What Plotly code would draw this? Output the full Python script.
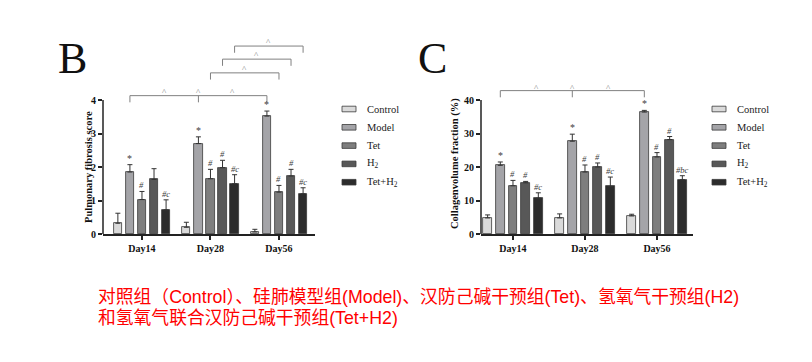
import plotly.graph_objects as go

W, H = 812, 362

# ---------------- data ----------------
groups = ["Day14", "Day28", "Day56"]
series = ["Control", "Model", "Tet", "H2", "Tet+H2"]
legend_labels = ["Control", "Model", "Tet", "H<sub>2</sub>", "Tet+H<sub>2</sub>"]
colors = ["#dadada", "#a4a4a8", "#7e7e7e", "#585858", "#2c2c2c"]

# Panel B : Pulmonary fibrosis score
b_control = [0.32, 0.20, 0.06]
b_model = [1.85, 2.70, 3.52]
b_tet = [1.03, 1.65, 1.25]
b_h2 = [1.63, 1.98, 1.73]
b_teth2 = [0.72, 1.50, 1.20]
b_control_err = [0.30, 0.15, 0.08]
b_model_err = [0.22, 0.20, 0.15]
b_tet_err = [0.24, 0.28, 0.20]
b_h2_err = [0.32, 0.22, 0.20]
b_teth2_err = [0.30, 0.27, 0.18]
b_marks_model = ["*", "*", "*"]
b_marks_tet = ["#", "#", "#"]
b_marks_h2 = ["", "#", "#"]
b_marks_teth2 = ["#c", "#c", "#c"]
b_yticks = [0, 1, 2, 3, 4]

# Panel C : Collagen volume fraction (%)
c_control = [4.8, 4.8, 5.4]
c_model = [20.5, 27.7, 36.4]
c_tet = [14.4, 18.5, 23.0]
c_h2 = [15.3, 20.0, 28.2]
c_teth2 = [10.7, 14.2, 16.2]
c_control_err = [0.9, 1.2, 0.5]
c_model_err = [1.0, 2.1, 0.5]
c_tet_err = [1.6, 2.1, 1.3]
c_h2_err = [0.4, 1.2, 0.9]
c_teth2_err = [1.6, 2.8, 1.2]
c_marks_model = ["*", "*", "*"]
c_marks_tet = ["#", "#", "#"]
c_marks_h2 = ["#", "#", "#"]
c_marks_teth2 = ["#c", "#c", "#bc"]
c_yticks = [0, 10, 20, 30, 40]

caption1 = "对照组（Control）、硅肺模型组(Model)、汉防己碱干预组(Tet)、氢氧气干预组(H2)"
caption2 = "和氢氧气联合汉防己碱干预组(Tet+H2)"

# ---------------- layout helpers ----------------
def px(x):
    return x / W

def py(y):
    return 1 - y / H

STEP = 0.176   # offset between bars inside a group (x units)
BW = 0.12      # bar width (x units)
SERIF = "Liberation Serif, Times New Roman, serif"
BRACKET = "#808080"

fig = go.Figure()
annotations = []
shapes = []


def add_panel(xref, yref, means, errs, marks, ymax_unit, brackets, caret_gap, drop):
    for i, name in enumerate(series):
        xs = [g + (i - 2) * STEP for g in range(len(groups))]
        fig.add_trace(go.Bar(
            x=xs, y=means[i], width=BW, name=name, showlegend=False,
            marker=dict(color=colors[i], line=dict(color="#3a3a3a", width=0.8)),
            error_y=dict(type="data", array=errs[i], arrayminus=[0] * 3,
                         symmetric=False, color="#333333", thickness=1, width=2.5),
            xaxis=xref, yaxis=yref,
        ))
        if marks[i] is not None:
            for j, m in enumerate(marks[i]):
                if m:
                    annotations.append(dict(
                        x=xs[j], y=means[i][j] + errs[i][j], xref=xref, yref=yref,
                        text=m if m == "*" else "<i>" + m + "</i>",
                        showarrow=False, xanchor="center", yanchor="bottom",
                        yshift=-1,
                        font=dict(family=SERIF, size=8.5 if m != "*" else 10, color="#404040"),
                    ))
    # y axis line (only up to the last tick)
    shapes.append(dict(type="line", xref=xref + " domain", yref=yref,
                       x0=0, x1=0, y0=0, y1=ymax_unit,
                       line=dict(color="#222222", width=1.5)))
    # significance brackets
    for (si, g0, g1, gm, ylev) in brackets:
        xl = g0 + (si - 2) * STEP
        xr = g1 + (si - 2) * STEP
        shapes.append(dict(type="line", xref=xref, yref=yref, x0=xl, x1=xr, y0=ylev, y1=ylev,
                           line=dict(color=BRACKET, width=1)))
        ends = [xl, xr]
        carets = [(xl + xr) / 2]
        if gm is not None:
            xm = gm + (si - 2) * STEP
            ends.append(xm)
            carets = [(xl + xm) / 2, xm, (xm + xr) / 2]
        for xe in ends:
            shapes.append(dict(type="line", xref=xref, yref=yref, x0=xe, x1=xe,
                               y0=ylev, y1=ylev - drop,
                               line=dict(color=BRACKET, width=1)))
        for xc in carets:
            annotations.append(dict(x=xc, y=ylev + caret_gap, xref=xref, yref=yref,
                                    text="^", showarrow=False, xanchor="center",
                                    yanchor="middle",
                                    font=dict(family=SERIF, size=9, color=BRACKET)))


b_means = [b_control, b_model, b_tet, b_h2, b_teth2]
b_errs = [b_control_err, b_model_err, b_tet_err, b_h2_err, b_teth2_err]
b_marks = [None, b_marks_model, b_marks_tet, b_marks_h2, b_marks_teth2]
c_means = [c_control, c_model, c_tet, c_h2, c_teth2]
c_errs = [c_control_err, c_model_err, c_tet_err, c_h2_err, c_teth2_err]
c_marks = [None, c_marks_model, c_marks_tet, c_marks_h2, c_marks_teth2]

# brackets: (series index, from group, to group, middle group, level)
b_brackets = [(1, 0, 2, 1, 4.13), (2, 1, 2, None, 4.81), (3, 1, 2, None, 5.22), (4, 1, 2, None, 5.61)]
c_brackets = [(1, 0, 2, 1, 42.8)]

add_panel("x", "y", b_means, b_errs, b_marks, 4, b_brackets, 0.12, 0.2)
add_panel("x2", "y2", c_means, c_errs, c_marks, 40, c_brackets, 0.7, 2.0)

dom_y = [py(234), py(40)]
b_range_top = (234 - 40) / 33.5
c_range_top = (234 - 40) / 3.35

axis_common = dict(showgrid=False, zeroline=False, ticks="outside", ticklen=4,
                   tickwidth=1.5, tickcolor="#222222",
                   tickfont=dict(family=SERIF, size=10, color="#111111", weight="bold"))

fig.update_layout(
    width=W, height=H, margin=dict(l=0, r=0, t=0, b=0, autoexpand=False),
    paper_bgcolor="white", plot_bgcolor="white",
    barmode="overlay", bargap=0,
    xaxis=dict(domain=[px(103), px(315)], range=[-0.569, 2.526],
               tickvals=[0, 1, 2], ticktext=groups, showline=True,
               linecolor="#222222", linewidth=1.5, anchor="y", **axis_common),
    yaxis=dict(domain=dom_y, range=[0, b_range_top], tickvals=b_yticks,
               showline=False, anchor="x", **axis_common),
    xaxis2=dict(domain=[px(481), px(693)], range=[-0.444, 2.5],
                tickvals=[0, 1, 2], ticktext=groups, showline=True,
                linecolor="#222222", linewidth=1.5, anchor="y2", **axis_common),
    yaxis2=dict(domain=dom_y, range=[0, c_range_top], tickvals=c_yticks,
                showline=False, anchor="x2", **axis_common),
)

# axis titles
annotations.append(dict(x=px(88), y=py(167), xref="paper", yref="paper",
                        xanchor="center", yanchor="middle",
                        text="<b>Pulmonary fibrosis score</b>", textangle=-90,
                        showarrow=False, font=dict(family=SERIF, size=10.5, color="#111111")))
annotations.append(dict(x=px(455), y=py(163), xref="paper", yref="paper",
                        xanchor="center", yanchor="middle",
                        text="<b>Collagenvolume fraction (%)</b>", textangle=-90,
                        showarrow=False, font=dict(family=SERIF, size=10.5, color="#111111")))

# panel letters
annotations.append(dict(x=px(72), y=py(58), xref="paper", yref="paper", text="B",
                        xanchor="center", yanchor="middle",
                        showarrow=False, font=dict(family=SERIF, size=44, color="#111111")))
annotations.append(dict(x=px(432), y=py(58), xref="paper", yref="paper", text="C",
                        xanchor="center", yanchor="middle",
                        showarrow=False, font=dict(family=SERIF, size=44, color="#111111")))

# manual legends
for lx in (342, 712):
    for i, lab in enumerate(legend_labels):
        yc = 109 + 18.3 * i
        shapes.append(dict(type="rect", xref="paper", yref="paper",
                           x0=px(lx), x1=px(lx + 14), y0=py(yc + 2.8), y1=py(yc - 2.8),
                           fillcolor=colors[i], line=dict(color="#3a3a3a", width=0.8)))
        annotations.append(dict(x=px(lx + 23), y=py(yc), xref="paper", yref="paper",
                                text=lab, showarrow=False, xanchor="left", yanchor="middle",
                                font=dict(family=SERIF, size=10.5, color="#222222")))

# caption
cap_font = dict(family="Liberation Sans, Arial, Noto Sans CJK SC, sans-serif", size=17.8, color="#ff0000")
annotations.append(dict(x=px(96), y=py(297), xref="paper", yref="paper", text=caption1,
                        showarrow=False, xanchor="left", yanchor="middle", font=cap_font))
annotations.append(dict(x=px(96), y=py(318), xref="paper", yref="paper", text=caption2,
                        showarrow=False, xanchor="left", yanchor="middle", font=cap_font))

fig.update_layout(annotations=annotations, shapes=shapes)
fig.write_html("out.html", config={"displayModeBar": False},
               post_script="document.body.style.margin='0px';document.body.style.overflow='hidden';")
